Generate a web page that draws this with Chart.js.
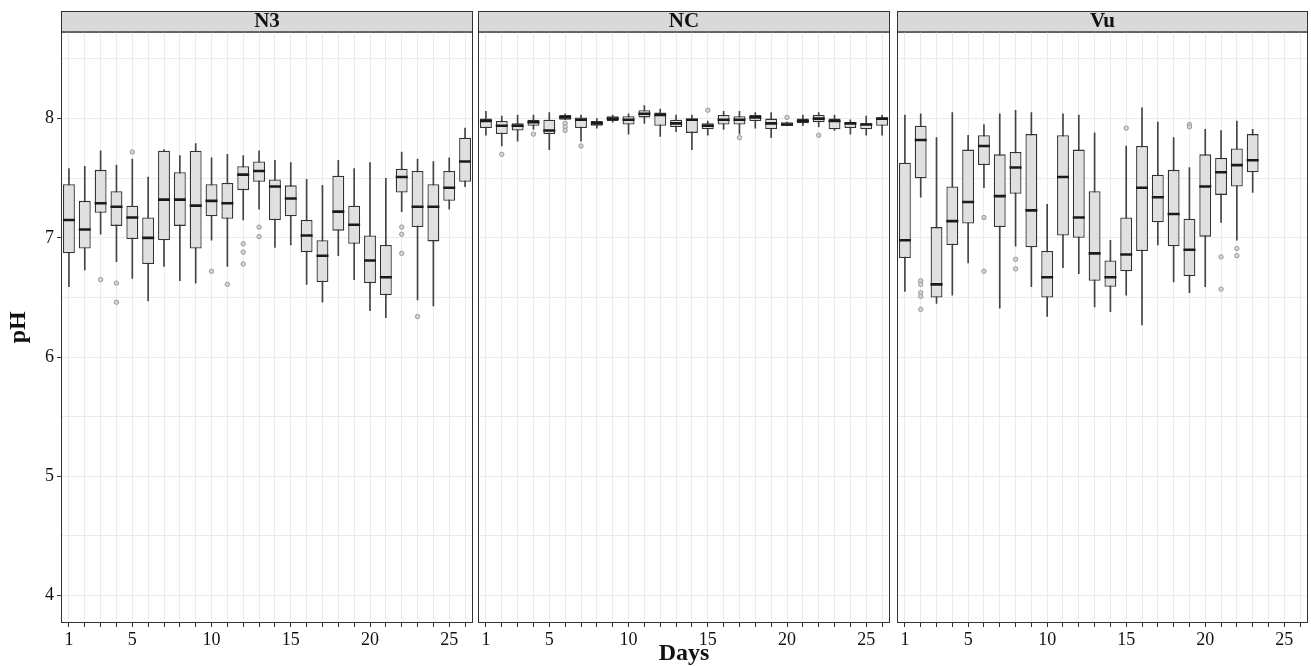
<!DOCTYPE html>
<html>
<head>
<meta charset="utf-8">
<script src="https://cdn.jsdelivr.net/npm/chart.js@4"></script>
<style>
  body { margin: 0; background: #fff; }
  #wrap { position: relative; width: 1311px; height: 666px; }
  #wrap canvas { position: absolute; top: 0; }
</style>
</head>
<body>
<div id="wrap">
  <canvas id="n3" style="left:0px"></canvas>
  <canvas id="nc" style="left:476px"></canvas>
  <canvas id="vu" style="left:893px"></canvas>
</div>
<script>
var days = [];
for (var d = 1; d <= 26; d++) days.push(String(d));
var shownDays = ['1', '5', '10', '15', '20', '25'];

// N3
var n3Min = [6.59,6.73,7.03,6.80,6.66,6.47,6.76,6.64,6.62,6.98,6.76,7.15,7.24,6.92,6.94,6.61,6.46,6.85,6.65,6.39,6.33,7.22,6.48,6.43,7.24,7.43];
var n3Q1  = [6.87,6.91,7.21,7.10,6.99,6.78,6.98,7.10,6.91,7.18,7.16,7.40,7.47,7.15,7.18,6.88,6.63,7.06,6.95,6.62,6.52,7.38,7.09,6.97,7.31,7.47];
var n3Med = [7.15,7.07,7.29,7.26,7.17,7.00,7.32,7.32,7.27,7.31,7.29,7.53,7.56,7.43,7.33,7.02,6.85,7.22,7.11,6.81,6.67,7.51,7.26,7.26,7.42,7.64];
var n3Q3  = [7.45,7.31,7.57,7.39,7.27,7.17,7.73,7.55,7.73,7.45,7.46,7.60,7.64,7.49,7.44,7.15,6.98,7.52,7.27,7.02,6.94,7.58,7.56,7.45,7.56,7.84];
var n3Max = [7.58,7.60,7.73,7.61,7.66,7.51,7.74,7.69,7.79,7.67,7.70,7.69,7.73,7.65,7.63,7.49,7.44,7.65,7.58,7.63,7.50,7.72,7.66,7.64,7.67,7.92];
var n3OutDay = ['3','4','4','5','10','11','12','12','12','13','13','22','22','22','23'];
var n3OutVal = [6.65,6.62,6.46,7.72,6.72,6.61,6.95,6.88,6.78,7.09,7.01,7.09,7.03,6.87,6.34];

// NC
var ncMin = [7.86,7.77,7.81,7.91,7.74,7.99,7.81,7.92,7.97,7.87,7.96,7.85,7.89,7.74,7.86,7.91,7.87,7.92,7.84,7.94,7.94,7.93,7.90,7.87,7.86,7.86];
var ncQ1  = [7.92,7.87,7.90,7.94,7.87,7.99,7.92,7.94,7.98,7.95,8.01,7.94,7.93,7.88,7.91,7.95,7.95,7.98,7.91,7.94,7.96,7.97,7.91,7.92,7.91,7.94];
var ncMed = [7.98,7.94,7.94,7.97,7.90,8.01,7.99,7.96,8.00,7.99,8.04,8.03,7.96,7.99,7.94,7.99,7.99,8.01,7.96,7.95,7.98,8.00,7.98,7.96,7.95,8.00];
var ncQ3  = [8.00,7.98,7.96,7.99,7.99,8.03,8.01,7.98,8.02,8.02,8.07,8.05,7.99,8.00,7.96,8.03,8.02,8.03,8.00,7.97,8.00,8.03,8.00,7.97,7.96,8.01];
var ncMax = [8.06,8.02,8.03,8.03,8.05,8.04,8.03,8.00,8.03,8.04,8.11,8.08,8.03,8.03,7.98,8.06,8.06,8.05,8.05,7.97,8.03,8.05,8.03,7.99,8.02,8.03];
var ncOutDay = ['2','4','6','6','6','7','15','17','20','22'];
var ncOutVal = [7.70,7.87,7.96,7.93,7.90,7.77,8.07,7.84,8.01,7.86];

// Vu (days 1-23)
var vuMin = [6.55,7.34,6.45,6.52,6.79,7.42,6.41,6.93,6.59,6.34,6.75,6.70,6.42,6.38,6.52,6.27,6.94,6.63,6.54,6.59,7.13,6.98,7.38];
var vuQ1  = [6.83,7.50,6.50,6.94,7.12,7.61,7.09,7.37,6.92,6.50,7.02,7.00,6.64,6.59,6.72,6.89,7.13,6.93,6.68,7.01,7.36,7.43,7.55];
var vuMed = [6.98,7.82,6.61,7.14,7.30,7.77,7.35,7.59,7.23,6.67,7.51,7.17,6.87,6.67,6.86,7.42,7.34,7.20,6.90,7.43,7.55,7.61,7.65];
var vuQ3  = [7.63,7.94,7.09,7.43,7.74,7.86,7.70,7.72,7.87,6.89,7.86,7.74,7.39,6.81,7.17,7.77,7.53,7.57,7.16,7.70,7.67,7.75,7.87];
var vuMax = [8.03,8.04,7.84,8.05,7.86,7.95,8.04,8.07,8.05,7.28,8.04,8.03,7.88,6.98,7.77,8.09,7.97,7.84,7.59,7.91,7.90,7.98,7.91];
var vuOutDay = ['2','2','2','2','2','6','6','8','8','15','19','19','21','21','22','22'];
var vuOutVal = [6.64,6.61,6.54,6.51,6.40,7.17,6.72,6.82,6.74,7.92,7.95,7.93,6.84,6.57,6.91,6.85];

var serif = '"Liberation Serif", "Times New Roman", serif';

var facetPlugin = {
  id: 'facet',
  beforeDraw: function(chart) {
    var a = chart.chartArea, ctx = chart.ctx;
    ctx.save();
    ctx.fillStyle = '#d9d9d9';
    ctx.fillRect(a.left, 11, a.right - a.left, a.top - 11);
    ctx.strokeStyle = '#333';
    ctx.lineWidth = 1;
    ctx.strokeRect(a.left + 0.5, 11.5, a.right - a.left - 1, a.top - 11);
    ctx.restore();
  },
  afterDraw: function(chart) {
    var a = chart.chartArea, ctx = chart.ctx;
    ctx.save();
    ctx.strokeStyle = '#333';
    ctx.lineWidth = 1;
    ctx.strokeRect(a.left + 0.5, a.top + 0.5, a.right - a.left - 1, a.bottom - a.top - 1);
    ctx.restore();
  }
};

function grafica(id, name, w, padL, mins, q1, med, q3, maxs, outDay, outVal, withY, withX) {
  var canvas = document.getElementById(id);
  canvas.style.width = w + 'px';
  canvas.style.height = '666px';
  var outs = [];
  for (var i = 0; i < outDay.length; i++) outs.push({ x: outDay[i], y: outVal[i] });

  new Chart(canvas.getContext('2d'), {
    type: 'bar',
    data: {
      labels: days,
      datasets: [
        {
          label: 'whisker',
          data: mins.map(function(v, i) { return [v, maxs[i]]; }),
          backgroundColor: '#444',
          borderWidth: 0,
          barThickness: 1,
          grouped: false,
          order: 3
        },
        {
          label: 'box',
          data: q1.map(function(v, i) { return [v, q3[i]]; }),
          backgroundColor: '#e0e0e0',
          borderColor: '#333',
          borderWidth: 1.3,
          borderSkipped: false,
          barPercentage: 0.75,
          categoryPercentage: 1,
          grouped: false,
          order: 2
        },
        {
          type: 'line',
          label: 'median',
          data: med,
          showLine: false,
          pointStyle: 'line',
          pointRadius: 6,
          pointBorderWidth: 2.6,
          pointBorderColor: '#1a1a1a',
          order: 1
        },
        {
          type: 'line',
          label: 'outlier',
          data: outs,
          showLine: false,
          pointRadius: 2.2,
          pointBorderWidth: 1,
          pointBorderColor: '#999',
          pointBackgroundColor: '#d4d4d4',
          order: 0
        }
      ]
    },
    options: {
      responsive: false,
      animation: false,
      layout: { autoPadding: false, padding: { top: 12, left: padL, right: 3, bottom: 0 } },
      plugins: {
        legend: { display: false },
        tooltip: { enabled: false },
        title: {
          display: true,
          text: name,
          fullSize: false,
          color: '#111',
          padding: 0,
          font: { family: serif, size: 21, weight: 'bold', lineHeight: 0.93 }
        }
      },
      scales: {
        x: {
          offset: true,
          afterFit: function(s) { s.height = 43; s.paddingLeft = 0; s.paddingRight = 0; },
          grid: { offset: false, color: '#ebebeb', tickColor: '#333', tickLength: 4 },
          border: { display: false },
          ticks: {
            autoSkip: false,
            maxRotation: 0,
            padding: 2,
            color: '#111',
            font: { family: serif, size: 18 },
            callback: function(v) {
              var l = this.getLabelForValue(v);
              return shownDays.indexOf(l) >= 0 ? l : '';
            }
          },
          title: {
            display: withX,
            text: 'Days',
            color: '#111',
            padding: { top: 0, bottom: 0 },
            font: { family: serif, size: 24, weight: 'bold', lineHeight: 1 }
          }
        },
        y: {
          min: 3.77,
          max: 8.73,
          afterFit: function(s) { s.width = withY ? 61 : 0; },
          grid: {
            drawTicks: withY,
            tickLength: 4,
            color: function(c) { return (c.tick && Math.round(c.tick.value * 2) === c.tick.value * 2) ? '#ebebeb' : 'rgba(0,0,0,0)'; },
            tickColor: function(c) { return (c.tick && Number.isInteger(c.tick.value)) ? '#333' : 'rgba(0,0,0,0)'; }
          },
          border: { display: false },
          ticks: {
            display: withY,
            stepSize: 0.5,
            padding: 3,
            color: '#111',
            font: { family: serif, size: 18 },
            callback: function(v) { return Number.isInteger(v) ? String(v) : ''; }
          },
          title: {
            display: withY,
            text: 'pH',
            color: '#111',
            padding: { top: 4, bottom: 0 },
            font: { family: serif, size: 24, weight: 'bold', lineHeight: 1.2 }
          }
        }
      }
    },
    plugins: [facetPlugin]
  });
}

grafica('n3', 'N3', 476, 0, n3Min, n3Q1, n3Med, n3Q3, n3Max, n3OutDay, n3OutVal, true, false);
grafica('nc', 'NC', 417, 2, ncMin, ncQ1, ncMed, ncQ3, ncMax, ncOutDay, ncOutVal, false, true);
grafica('vu', 'Vu', 418, 4, vuMin, vuQ1, vuMed, vuQ3, vuMax, vuOutDay, vuOutVal, false, false);
</script>
</body>
</html>
